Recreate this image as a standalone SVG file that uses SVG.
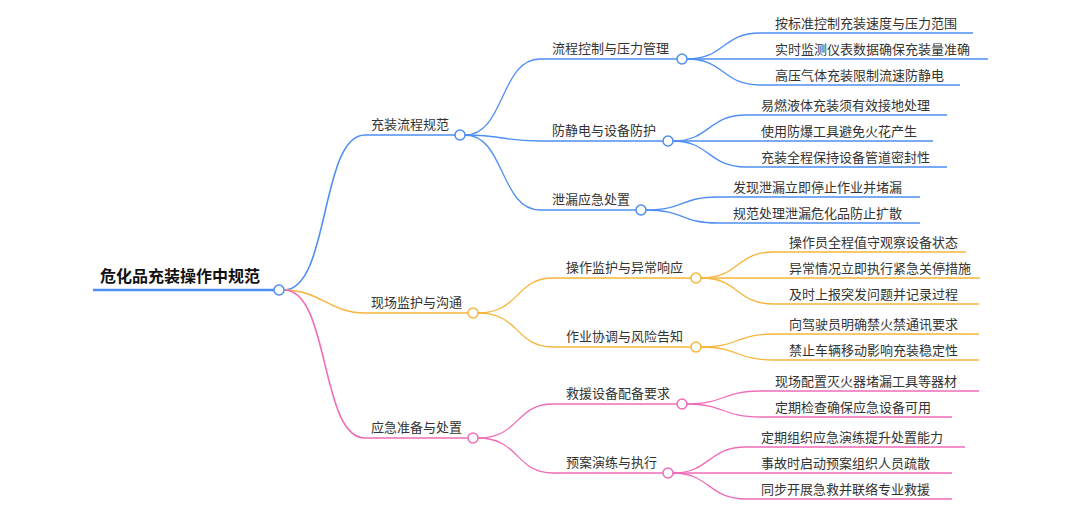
<svg xmlns="http://www.w3.org/2000/svg" width="1080" height="530" viewBox="0 0 1080 530">
<style>
text{font-family:"Noto Sans CJK SC","Noto Sans",sans-serif;font-size:13px;fill:#333}
.root{font-size:16px;font-weight:bold;fill:#111}
path{fill:none;stroke-width:1.3}
.b{stroke:#4e8ef3}.o{stroke:#f7b53c}.p{stroke:#f06cb8}
circle{fill:#fff;stroke-width:1.5}
</style>
<rect width="1080" height="530" fill="#fff"/>
<g id="connectors">
<path class="b" d="M284 290 C330 290 320 135 365 135 L455 135" style="stroke-width:1.6"/>
<path class="o" d="M284 290 C320 290 330 313 365 313 L468 313" style="stroke-width:1.6"/>
<path class="p" d="M284 290 C330 290 320 438 365 438 L468 438" style="stroke-width:1.6"/>
<path class="b" d="M465 135 C505 135 500 59 540 59 L677 59"/>
<path class="b" d="M465 135 C505 135 500 141 540 141 L663 141"/>
<path class="b" d="M465 135 C505 135 500 210 540 210 L636 210"/>
<path class="o" d="M478 313 C520 313 515 278 553 278 L691 278"/>
<path class="o" d="M478 313 C520 313 515 347 553 347 L691 347"/>
<path class="p" d="M478 438 C520 438 515 404 553 404 L677 404"/>
<path class="p" d="M478 438 C520 438 515 473 553 473 L663 473"/>
<path class="b" d="M687 59 C725 59 722 33 760 33 L973 33"/>
<path class="b" d="M687 59 L988 59"/>
<path class="b" d="M687 59 C725 59 722 85 760 85 L960 85"/>
<path class="b" d="M673 141 C710 141 708 115 746 115 L947 115"/>
<path class="b" d="M673 141 L933 141"/>
<path class="b" d="M673 141 C710 141 708 167 746 167 L947 167"/>
<path class="b" d="M646 210 C685 210 680 197 718 197 L920 197"/>
<path class="b" d="M646 210 C685 210 680 223 718 223 L920 223"/>
<path class="o" d="M701 278 C740 278 735 252 774 252 L966 252"/>
<path class="o" d="M701 278 L980 278"/>
<path class="o" d="M701 278 C740 278 735 304 774 304 L979 304"/>
<path class="o" d="M701 347 C740 347 735 334 774 334 L979 334"/>
<path class="o" d="M701 347 C740 347 735 360 774 360 L979 360"/>
<path class="p" d="M687 404 C725 404 722 391 760 391 L979 391"/>
<path class="p" d="M687 404 C725 404 722 417 760 417 L952 417"/>
<path class="p" d="M673 473 C710 473 708 447 746 447 L965 447"/>
<path class="p" d="M673 473 L952 473"/>
<path class="p" d="M673 473 C710 473 708 499 746 499 L952 499"/>
</g>
<g id="root"><path class="b" d="M93 290 L274 290" style="stroke-width:2.5"/><text class="root" x="100" y="282">危化品充装操作中规范</text><circle cx="279" cy="290" r="5" stroke="#4e8ef3"/></g>
<g id="n1"><text x="371" y="129">充装流程规范</text><circle cx="460" cy="135" r="5" stroke="#4e8ef3"/></g>
<g id="n2"><text x="371" y="307">现场监护与沟通</text><circle cx="473" cy="313" r="5" stroke="#f7b53c"/></g>
<g id="n3"><text x="371" y="432">应急准备与处置</text><circle cx="473" cy="438" r="5" stroke="#f06cb8"/></g>
<g id="n11"><text x="552" y="53">流程控制与压力管理</text><circle cx="682" cy="59" r="5" stroke="#4e8ef3"/></g>
<g id="n12"><text x="552" y="135">防静电与设备防护</text><circle cx="668" cy="141" r="5" stroke="#4e8ef3"/></g>
<g id="n13"><text x="552" y="204">泄漏应急处置</text><circle cx="641" cy="210" r="5" stroke="#4e8ef3"/></g>
<g id="n21"><text x="566" y="272">操作监护与异常响应</text><circle cx="696" cy="278" r="5" stroke="#f7b53c"/></g>
<g id="n22"><text x="566" y="341">作业协调与风险告知</text><circle cx="696" cy="347" r="5" stroke="#f7b53c"/></g>
<g id="n31"><text x="566" y="398">救援设备配备要求</text><circle cx="682" cy="404" r="5" stroke="#f06cb8"/></g>
<g id="n32"><text x="566" y="467">预案演练与执行</text><circle cx="668" cy="473" r="5" stroke="#f06cb8"/></g>
<g id="leaves">
<text x="775" y="28">按标准控制充装速度与压力范围</text>
<text x="775" y="54">实时监测仪表数据确保充装量准确</text>
<text x="775" y="80">高压气体充装限制流速防静电</text>
<text x="761" y="110">易燃液体充装须有效接地处理</text>
<text x="761" y="136">使用防爆工具避免火花产生</text>
<text x="761" y="162">充装全程保持设备管道密封性</text>
<text x="733" y="192">发现泄漏立即停止作业并堵漏</text>
<text x="733" y="218">规范处理泄漏危化品防止扩散</text>
<text x="789" y="247">操作员全程值守观察设备状态</text>
<text x="789" y="273">异常情况立即执行紧急关停措施</text>
<text x="789" y="299">及时上报突发问题并记录过程</text>
<text x="789" y="329">向驾驶员明确禁火禁通讯要求</text>
<text x="789" y="355">禁止车辆移动影响充装稳定性</text>
<text x="775" y="386">现场配置灭火器堵漏工具等器材</text>
<text x="775" y="412">定期检查确保应急设备可用</text>
<text x="761" y="442">定期组织应急演练提升处置能力</text>
<text x="761" y="468">事故时启动预案组织人员疏散</text>
<text x="761" y="494">同步开展急救并联络专业救援</text>
</g>
</svg>
